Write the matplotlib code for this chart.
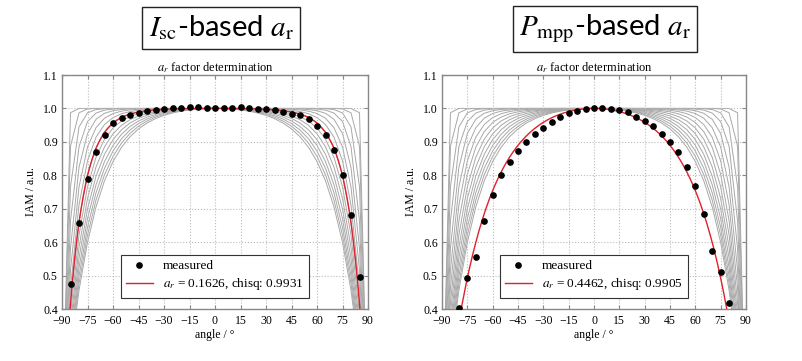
import numpy as np
import matplotlib
matplotlib.use("Agg")
import matplotlib.pyplot as plt

plt.rcParams['font.family'] = ['Liberation Serif', 'DejaVu Serif']
plt.rcParams['mathtext.fontset'] = 'stix'

# ---------------- data ----------------
panel_titles = [r'$I_{\mathrm{sc}}$-based $a_{\mathrm{r}}$',
                r'$P_{\mathrm{mpp}}$-based $a_{\mathrm{r}}$']
ar_fit = [0.1626, 0.4462]
chisq = [0.9931, 0.9905]

# family of model curves (a_r values), evaluated at 5 degree steps
ar_family = [0.02, 0.04, 0.06, 0.08, 0.10, 0.12, 0.14, 0.16,
             0.18, 0.20, 0.22, 0.24, 0.26, 0.28, 0.30]
family_angles = [-90, -85, -80, -75, -70, -65, -60, -55, -50, -45, -40, -35,
                 -30, -25, -20, -15, -10, -5, 0, 5, 10, 15, 20, 25, 30, 35,
                 40, 45, 50, 55, 60, 65, 70, 75, 80, 85, 90]

isc_angles = [-85, -80, -75, -70, -65, -60, -55, -50, -45, -40, -35, -30,
              -25, -20, -15, -10, -5, 0, 5, 10, 15, 20, 25, 30, 35, 40,
              45, 50, 55, 60, 65, 70, 75, 80, 85]
isc_iam = [0.476, 0.658, 0.789, 0.871, 0.921, 0.955, 0.972, 0.981, 0.987,
           0.991, 0.996, 0.998, 1.001, 1.002, 1.005, 1.005, 1.002, 1.001,
           1.001, 1.002, 1.003, 1.002, 0.999, 0.997, 0.995, 0.988, 0.984,
           0.980, 0.967, 0.948, 0.920, 0.876, 0.800, 0.682, 0.495]

pmpp_angles = [-80, -75, -70, -65, -60, -55, -50, -45, -40, -35, -30, -25,
               -20, -15, -10, -5, 0, 5, 10, 15, 20, 25, 30, 35, 40, 45, 50,
               55, 60, 65, 70, 75, 80]
pmpp_iam = [0.402, 0.492, 0.557, 0.662, 0.742, 0.800, 0.841, 0.874, 0.899,
            0.923, 0.942, 0.960, 0.973, 0.985, 0.993, 0.999, 1.000, 1.000,
            0.999, 0.995, 0.988, 0.975, 0.961, 0.946, 0.924, 0.899, 0.870,
            0.826, 0.767, 0.685, 0.574, 0.510, 0.418]

measured_x = [isc_angles, pmpp_angles]
measured_y = [isc_iam, pmpp_iam]

xticks = [-90, -75, -60, -45, -30, -15, 0, 15, 30, 45, 60, 75, 90]
yticks = [0.4, 0.5, 0.6, 0.7, 0.8, 0.9, 1.0, 1.1]


def iam_model(theta_deg, ar):
    c = np.cos(np.radians(theta_deg))
    c = np.clip(c, 0, None)
    return (1 - np.exp(-c / ar)) / (1 - np.exp(-1.0 / ar))


# ---------------- figure ----------------
fig = plt.figure(figsize=(8.02, 3.61), dpi=100)
W, H = 802, 361

axes_px = [(62, 368), (442, 746)]
ax_top, ax_bot = 75, 309
box_centers = [(221, 28), (605, 29)]

fam_x = np.array(family_angles, dtype=float)
fine_x = np.linspace(-90, 90, 361)

for i in range(2):
    l, r = axes_px[i]
    ax = fig.add_axes([l / W, 1 - ax_bot / H, (r - l) / W, (ax_bot - ax_top) / H])
    for a in ar_family:
        ax.plot(fam_x, iam_model(fam_x, a), color='#a8a8a8', lw=0.7, zorder=1)
    ax.plot(fine_x, iam_model(fine_x, ar_fit[i]), color='#e0202a', lw=1.0,
            zorder=3, label=r'$a_r$ = %.4f, chisq: %.4f' % (ar_fit[i], chisq[i]))
    ax.plot(measured_x[i], measured_y[i], 'o', color='black', ms=3.8,
            zorder=4, label='measured', linestyle='none')

    ax.set_xlim(-90, 90)
    ax.set_ylim(0.4, 1.1)
    ax.set_xticks(xticks)
    ax.set_xticklabels([('\u2212%d' % -t) if t < 0 else '%d' % t for t in xticks])
    ax.set_yticks(yticks)
    ax.set_yticklabels(['%.1f' % t for t in yticks])
    ax.tick_params(labelsize=8.5, direction='in', length=3, top=True, right=True,
                   color='#888888')
    ax.tick_params(axis='x', pad=4)
    ax.tick_params(axis='y', pad=3)
    ax.grid(True, linestyle=':', color='#bbbbbb', lw=0.8)
    for s in ax.spines.values():
        s.set_color('#888888')
        s.set_linewidth(1.0)
    ax.set_title(r'$a_r$ factor determination', fontsize=9, pad=3)
    ax.set_xlabel('angle / \u00b0', fontsize=8.5, labelpad=2)
    ax.set_ylabel('IAM / a.u.', fontsize=8.5, labelpad=4)

    handles, labels = ax.get_legend_handles_labels()
    leg = ax.legend(handles[::-1], labels[::-1], loc='lower center',
                    bbox_to_anchor=(0.5, 0.02), fontsize=9.5, numpoints=1,
                    fancybox=False, framealpha=1, edgecolor='#333333',
                    borderpad=0.4, labelspacing=0.3, handlelength=2.0)
    leg.get_frame().set_linewidth(0.8)

    cx, cy = box_centers[i]
    fig.text(cx / W, 1 - cy / H, panel_titles[i], fontsize=21,
             family=['Lato', 'DejaVu Sans'], ha='center', va='center',
             bbox=dict(boxstyle='square,pad=0.22', fc='white', ec='#222222', lw=1.0))

fig.savefig('out.png', dpi=100)
